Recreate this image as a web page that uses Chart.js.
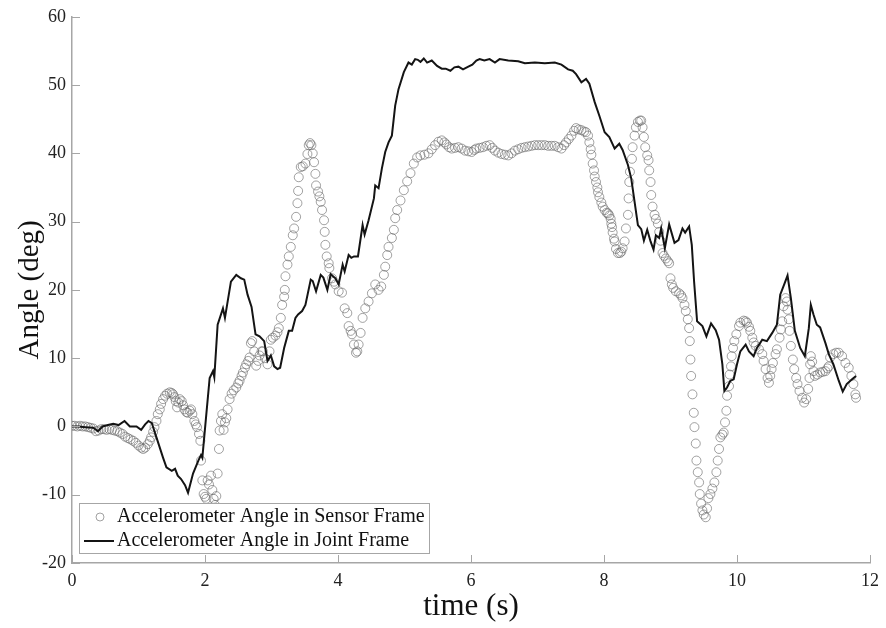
<!DOCTYPE html>
<html>
<head>
<meta charset="utf-8">
<script src="https://cdn.jsdelivr.net/npm/chart.js@4.4.1/dist/chart.umd.min.js"></script>
<style>
  body { margin: 0; background: #fff; }
  #wrap { width: 886px; height: 628px; position: relative; }
</style>
</head>
<body>
<div id="wrap"><canvas id="myChart"></canvas></div>
<script>
// Accelerometer angle in sensor frame (circles)
const sensorTime = [
  0.00, 0.04, 0.08, 0.12, 0.16, 0.20, 0.24, 0.28, 0.32, 0.36, 0.40, 0.44, 0.48, 0.52, 0.56, 0.60,
  0.64, 0.68, 0.72, 0.76, 0.80, 0.84, 0.88, 0.92, 0.96, 1.00, 1.04, 1.07, 1.10, 1.14, 1.17, 1.19,
  1.22, 1.24, 1.27, 1.29, 1.32, 1.34, 1.37, 1.40, 1.43, 1.47, 1.50, 1.52, 1.54, 1.56, 1.58, 1.60,
  1.62, 1.65, 1.67, 1.69, 1.72, 1.74, 1.77, 1.79, 1.81, 1.84, 1.86, 1.88, 1.91, 1.93, 1.94, 1.96,
  1.98, 2.00, 2.02, 2.04, 2.06, 2.09, 2.11, 2.13, 2.15, 2.17, 2.19, 2.21, 2.22, 2.24, 2.26, 2.28,
  2.30, 2.32, 2.34, 2.37, 2.40, 2.43, 2.47, 2.50, 2.52, 2.55, 2.57, 2.60, 2.62, 2.65, 2.67, 2.69,
  2.71, 2.74, 2.77, 2.80, 2.82, 2.85, 2.87, 2.90, 2.94, 2.97, 2.99, 3.02, 3.06, 3.09, 3.11, 3.14,
  3.16, 3.19, 3.20, 3.21, 3.24, 3.26, 3.29, 3.32, 3.34, 3.37, 3.39, 3.40, 3.41, 3.44, 3.47, 3.51,
  3.54, 3.56, 3.58, 3.60, 3.62, 3.64, 3.66, 3.67, 3.70, 3.72, 3.74, 3.76, 3.79, 3.80, 3.81, 3.83,
  3.86, 3.87, 3.91, 3.94, 3.96, 4.01, 4.06, 4.10, 4.14, 4.16, 4.19, 4.21, 4.24, 4.27, 4.29, 4.31,
  4.34, 4.37, 4.41, 4.46, 4.51, 4.56, 4.61, 4.65, 4.69, 4.71, 4.74, 4.76, 4.81, 4.84, 4.86, 4.89,
  4.94, 4.99, 5.04, 5.09, 5.14, 5.19, 5.24, 5.30, 5.36, 5.41, 5.46, 5.51, 5.56, 5.60, 5.63, 5.67,
  5.71, 5.76, 5.81, 5.86, 5.91, 5.96, 6.01, 6.05, 6.08, 6.13, 6.18, 6.23, 6.28, 6.32, 6.36, 6.41,
  6.46, 6.51, 6.56, 6.61, 6.66, 6.71, 6.76, 6.81, 6.86, 6.91, 6.96, 7.01, 7.06, 7.11, 7.16, 7.21,
  7.26, 7.31, 7.36, 7.40, 7.43, 7.47, 7.51, 7.55, 7.58, 7.62, 7.66, 7.70, 7.73, 7.76, 7.78, 7.80,
  7.81, 7.83, 7.85, 7.86, 7.88, 7.90, 7.91, 7.93, 7.96, 7.98, 8.01, 8.04, 8.06, 8.08, 8.10, 8.11,
  8.12, 8.13, 8.15, 8.16, 8.18, 8.21, 8.24, 8.26, 8.28, 8.31, 8.33, 8.36, 8.37, 8.38, 8.39, 8.42,
  8.43, 8.46, 8.48, 8.51, 8.54, 8.56, 8.58, 8.60, 8.62, 8.65, 8.67, 8.68, 8.70, 8.71, 8.73, 8.76,
  8.78, 8.81, 8.83, 8.85, 8.88, 8.90, 8.93, 8.96, 8.98, 9.00, 9.02, 9.04, 9.08, 9.13, 9.16, 9.18,
  9.21, 9.23, 9.26, 9.28, 9.29, 9.30, 9.31, 9.33, 9.35, 9.36, 9.38, 9.39, 9.41, 9.43, 9.44, 9.46,
  9.48, 9.50, 9.53, 9.55, 9.57, 9.60, 9.63, 9.66, 9.69, 9.71, 9.73, 9.75, 9.78, 9.80, 9.82, 9.84,
  9.85, 9.88, 9.89, 9.91, 9.92, 9.94, 9.96, 9.99, 10.03, 10.05, 10.10, 10.13, 10.15, 10.18, 10.20, 10.23,
  10.25, 10.28, 10.33, 10.38, 10.40, 10.43, 10.46, 10.48, 10.50, 10.52, 10.54, 10.58, 10.60, 10.64, 10.66, 10.68,
  10.70, 10.73, 10.75, 10.76, 10.78, 10.79, 10.81, 10.84, 10.86, 10.89, 10.91, 10.94, 10.98, 11.01, 11.04, 11.07,
  11.09, 11.10, 11.11, 11.13, 11.15, 11.17, 11.21, 11.25, 11.29, 11.33, 11.36, 11.38, 11.40, 11.45, 11.49, 11.53,
  11.58, 11.63, 11.68, 11.72, 11.75, 11.78, 11.79
];
const sensorAngle = [
  0.1, 0.1, 0.0, 0.1, 0.0, 0.0, -0.1, -0.2, -0.3, -0.7, -0.6, -0.4, -0.4, -0.5, -0.4, -0.5,
  -0.6, -0.7, -0.9, -1.1, -1.5, -1.7, -1.9, -2.1, -2.4, -2.8, -3.1, -3.3, -3.1, -2.6, -2.1, -1.6,
  -0.8, -0.1, 0.8, 1.8, 2.5, 3.3, 4.0, 4.5, 4.8, 5.0, 4.9, 4.7, 4.3, 3.7, 2.8, 3.5,
  4.0, 3.7, 3.1, 2.5, 2.1, 2.0, 2.3, 2.5, 1.8, 0.8, 0.3, -0.1, -1.1, -2.1, -5.0, -7.9,
  -9.9, -10.3, -10.6, -7.9, -8.5, -7.2, -9.3, -10.6, -11.5, -10.2, -6.9, -3.3, -0.6, 0.8, 1.8, -0.5,
  0.6, 1.2, 2.5, 4.0, 4.8, 5.3, 5.7, 6.3, 6.7, 7.4, 7.9, 8.6, 9.1, 9.6, 10.1, 12.2,
  12.5, 11.0, 8.9, 9.6, 10.4, 11.0, 11.0, 10.0, 9.1, 11.0, 12.7, 13.0, 13.3, 13.8, 14.4, 15.9,
  17.8, 19.0, 20.0, 22.0, 23.7, 24.9, 26.3, 28.0, 29.0, 30.7, 32.7, 34.5, 36.5, 38.0, 38.1, 38.5,
  39.9, 41.2, 41.5, 41.2, 40.0, 38.7, 37.0, 35.3, 34.4, 33.7, 32.9, 31.7, 30.2, 28.5, 26.6, 24.9,
  23.9, 23.2, 21.7, 21.2, 20.8, 19.8, 19.6, 17.3, 16.6, 14.7, 14.0, 13.5, 12.0, 10.8, 11.0, 12.0,
  13.7, 15.9, 17.3, 18.3, 19.5, 20.8, 20.0, 20.5, 22.2, 23.4, 25.1, 26.3, 27.6, 28.8, 30.5, 31.7,
  33.1, 34.6, 35.9, 37.1, 38.5, 39.4, 39.7, 39.8, 40.0, 40.6, 41.2, 41.7, 41.9, 41.6, 41.3, 40.9,
  40.7, 40.8, 40.9, 40.7, 40.4, 40.3, 40.2, 40.5, 40.7, 40.8, 40.9, 41.1, 41.2, 40.8, 40.4, 40.1,
  39.9, 39.8, 39.7, 40.0, 40.4, 40.6, 40.8, 40.9, 41.0, 41.1, 41.2, 41.2, 41.2, 41.2, 41.1, 41.1,
  41.1, 40.9, 40.7, 41.2, 41.6, 42.1, 42.6, 43.3, 43.7, 43.5, 43.4, 43.2, 43.1, 42.6, 41.6, 40.6,
  39.8, 38.5, 37.5, 36.6, 35.8, 35.0, 34.3, 33.6, 32.8, 32.2, 31.7, 31.3, 31.2, 30.9, 30.4, 29.7,
  29.2, 28.4, 27.5, 27.1, 26.0, 25.4, 25.4, 25.6, 26.1, 27.1, 29.0, 31.0, 33.4, 35.8, 37.3, 39.2,
  40.9, 42.6, 43.8, 44.6, 44.8, 44.8, 43.8, 42.4, 40.9, 39.7, 39.0, 37.5, 35.8, 33.9, 32.2, 31.0,
  30.4, 29.7, 28.5, 27.2, 25.4, 25.0, 24.6, 24.2, 23.9, 21.7, 20.8, 20.3, 19.8, 19.5, 19.2, 18.8,
  17.8, 16.9, 15.7, 14.4, 12.5, 9.8, 7.4, 4.7, 2.0, -0.1, -2.5, -5.0, -6.7, -8.2, -9.9, -11.3,
  -12.3, -12.9, -13.3, -12.0, -10.5, -9.9, -9.1, -8.2, -6.7, -5.0, -3.3, -1.6, -1.2, -0.9, 0.6, 2.3,
  4.5, 5.9, 7.6, 8.8, 10.3, 11.5, 12.5, 13.5, 14.7, 15.2, 15.5, 15.4, 15.2, 14.6, 14.0, 13.0,
  12.3, 11.8, 11.3, 10.6, 9.6, 8.4, 7.1, 6.4, 7.4, 8.4, 9.3, 10.6, 11.3, 13.0, 14.2, 15.4,
  17.6, 18.8, 18.3, 17.1, 15.7, 14.0, 11.8, 9.8, 8.4, 7.1, 6.2, 5.2, 4.2, 3.5, 4.0, 5.5,
  7.1, 9.1, 10.3, 9.5, 8.1, 7.4, 7.6, 7.9, 8.0, 8.1, 8.5, 8.8, 10.1, 10.6, 10.8, 10.8,
  10.3, 9.3, 8.6, 7.4, 6.2, 4.7, 4.2
];

// Accelerometer angle in joint frame (solid line)
const jointTime = [
  0.00, 0.10, 0.20, 0.32, 0.39, 0.46, 0.54, 0.62, 0.70, 0.79, 0.87, 0.97, 1.04, 1.10, 1.15, 1.20,
  1.27, 1.32, 1.37, 1.42, 1.50, 1.55, 1.59, 1.64, 1.70, 1.745, 1.82, 1.90, 1.94, 1.96, 2.02, 2.07,
  2.12, 2.14, 2.19, 2.27, 2.30, 2.39, 2.47, 2.54, 2.59, 2.64, 2.70, 2.76, 2.82, 2.89, 2.94, 2.99,
  3.04, 3.09, 3.13, 3.19, 3.26, 3.31, 3.36, 3.40, 3.46, 3.51, 3.59, 3.62, 3.67, 3.74, 3.78, 3.84,
  3.89, 3.96, 4.01, 4.07, 4.10, 4.16, 4.20, 4.24, 4.30, 4.37, 4.40, 4.46, 4.54, 4.56, 4.61, 4.66,
  4.71, 4.76, 4.81, 4.86, 4.91, 4.99, 5.06, 5.11, 5.16, 5.20, 5.24, 5.29, 5.34, 5.41, 5.49, 5.56,
  5.62, 5.69, 5.75, 5.81, 5.88, 5.96, 6.02, 6.08, 6.13, 6.20, 6.28, 6.36, 6.43, 6.56, 6.71, 6.81,
  6.96, 7.11, 7.26, 7.36, 7.46, 7.53, 7.58, 7.66, 7.73, 7.78, 7.86, 7.93, 8.01, 8.08, 8.16, 8.23,
  8.28, 8.36, 8.41, 8.46, 8.51, 8.56, 8.60, 8.65, 8.70, 8.745, 8.78, 8.83, 8.86, 8.915, 8.98, 9.06,
  9.12, 9.18, 9.22, 9.28, 9.32, 9.355, 9.40, 9.48, 9.54, 9.61, 9.68, 9.73, 9.78, 9.81, 9.85, 9.90,
  9.95, 10.00, 10.05, 10.13, 10.18, 10.25, 10.30, 10.38, 10.45, 10.53, 10.60, 10.65, 10.71, 10.76, 10.81, 10.87,
  10.95, 11.02, 11.08, 11.11, 11.15, 11.20, 11.25, 11.33, 11.38, 11.45, 11.53, 11.59, 11.65, 11.73, 11.79
];
const jointAngle = [
  0.0, 0.0, -0.1, -0.2, -0.7, 0.0, 0.2, 0.4, 0.2, 0.8, 0.0, 0.0, -0.5, 0.3, 0.8, 0.5,
  -1.6, -3.1, -4.6, -6.0, -6.5, -6.2, -7.2, -7.7, -8.6, -9.7, -6.9, -5.0, -4.2, -4.6, 1.8, 7.1,
  8.1, 7.2, 14.9, 17.3, 15.9, 21.2, 22.2, 21.7, 21.5, 19.3, 17.5, 13.5, 13.2, 12.5, 9.6, 10.4,
  8.8, 8.4, 8.6, 11.5, 14.0, 14.0, 15.9, 16.4, 16.9, 17.8, 21.5, 21.3, 19.8, 22.2, 21.8, 20.0,
  22.3, 21.7, 20.8, 23.7, 22.7, 25.1, 24.7, 24.9, 24.9, 29.5, 28.1, 30.2, 33.4, 35.3, 34.9, 37.8,
  40.2, 41.6, 42.6, 47.0, 49.4, 51.9, 53.3, 53.0, 53.8, 53.7, 53.4, 53.9, 53.3, 53.6, 52.8, 52.4,
  52.4, 52.1, 52.6, 52.7, 52.3, 52.7, 53.0, 53.6, 53.8, 53.6, 53.8, 53.3, 53.8, 53.6, 53.5, 53.2,
  53.3, 53.2, 53.3, 53.0, 52.3, 52.1, 51.6, 50.4, 50.9, 50.2, 47.5, 45.5, 43.1, 42.4, 40.7, 41.4,
  40.5, 38.3, 36.3, 32.9, 29.5, 28.9, 27.2, 28.8, 27.1, 25.9, 28.0, 27.6, 29.0, 26.1, 29.6, 26.9,
  27.3, 29.0, 28.4, 29.3, 26.6, 21.2, 15.4, 14.7, 13.2, 15.1, 14.1, 12.7, 9.1, 5.2, 5.7, 6.7,
  6.9, 9.1, 11.0, 12.0, 11.0, 10.3, 11.5, 12.7, 12.5, 13.7, 14.9, 19.3, 20.8, 22.1, 18.8, 14.0,
  11.5, 10.3, 14.4, 17.8, 16.4, 14.9, 14.5, 12.2, 10.6, 9.1, 6.7, 5.1, 6.2, 6.9, 7.4
];

const xTicks = [0, 2, 4, 6, 8, 10, 12];
const yTicks = [-20, -10, 0, 10, 20, 30, 40, 50, 60];

const serif = "'Liberation Serif', 'Times New Roman', serif";
const axisGray = '#a6a6a6';

function toPoints(xs, ys){
    return xs.map((x, i) => ({x: x, y: ys[i]}));
}

// tick marks drawn inside the plot, like the original figure
const innerTicks = {
    id: 'innerTicks',
    afterDraw(chart){
        const ctx = chart.ctx;
        const area = chart.chartArea;
        const xs = chart.scales.x;
        const ys = chart.scales.y;
        ctx.save();
        ctx.strokeStyle = axisGray;
        ctx.lineWidth = 1;
        xTicks.forEach(v => {
            const px = Math.round(xs.getPixelForValue(v)) + 0.5;
            ctx.beginPath();
            ctx.moveTo(px, area.bottom);
            ctx.lineTo(px, area.bottom - 8);
            ctx.stroke();
        });
        yTicks.forEach(v => {
            const py = Math.round(ys.getPixelForValue(v)) + 0.5;
            ctx.beginPath();
            ctx.moveTo(area.left, py);
            ctx.lineTo(area.left + 8, py);
            ctx.stroke();
        });
        ctx.restore();
    }
};

// boxed legend in the lower left corner of the plot
const boxLegend = {
    id: 'boxLegend',
    afterDraw(chart){
        const ctx = chart.ctx;
        const area = chart.chartArea;
        const sets = chart.data.datasets;
        const left = area.left + 7;
        const top = area.bottom - 60;
        const w = 350;
        const h = 50;
        ctx.save();
        ctx.fillStyle = '#fff';
        ctx.fillRect(left, top, w, h);
        ctx.strokeStyle = axisGray;
        ctx.lineWidth = 1;
        ctx.strokeRect(left + 0.5, top + 0.5, w, h);

        ctx.font = '20px ' + serif;
        ctx.fillStyle = '#111';
        ctx.textBaseline = 'middle';

        // sensor frame entry
        ctx.beginPath();
        ctx.arc(left + 21, top + 14, 4, 0, Math.PI * 2);
        ctx.strokeStyle = sets[1].borderColor;
        ctx.stroke();
        ctx.fillText(sets[1].label, left + 38, top + 14);

        // joint frame entry
        ctx.beginPath();
        ctx.moveTo(left + 5, top + 38);
        ctx.lineTo(left + 35, top + 38);
        ctx.strokeStyle = sets[0].borderColor;
        ctx.lineWidth = 2;
        ctx.stroke();
        ctx.fillText(sets[0].label, left + 38, top + 38);
        ctx.restore();
    }
};

function createChart(){
    const ctx = document.getElementById('myChart').getContext('2d');
    new Chart(ctx, {
        type: 'scatter',
        data: {
            datasets: [{
                label: 'Accelerometer Angle in Joint Frame',
                data: toPoints(jointTime, jointAngle),
                showLine: true,
                borderColor: '#141414',
                borderWidth: 2,
                pointRadius: 0,
                tension: 0,
                order: 0
            },
            {
                label: 'Accelerometer Angle in Sensor Frame',
                data: toPoints(sensorTime, sensorAngle),
                showLine: false,
                pointStyle: 'circle',
                pointRadius: 4.5,
                borderWidth: 1,
                borderColor: 'rgba(100,100,100,0.6)',
                backgroundColor: 'rgba(0,0,0,0)',
                order: 1
            }]
        },
        options: {
            responsive: true,
            maintainAspectRatio: false,
            animation: false,
            events: [],
            layout: { padding: { left: 0, right: 13, top: 14, bottom: 0 } },
            plugins: {
                legend: { display: false },
                tooltip: { enabled: false }
            },
            scales: {
                x: {
                    type: 'linear',
                    min: 0,
                    max: 12,
                    afterFit: scale => { scale.height = 65; },
                    afterBuildTicks: scale => { scale.ticks = xTicks.map(v => ({value: v})); },
                    grid: { display: true, drawOnChartArea: false, drawTicks: false },
                    border: { color: axisGray, width: 1.5 },
                    ticks: { color: '#222', padding: 7, font: { family: serif, size: 18 } },
                    title: {
                        display: true,
                        text: 'time (s)',
                        color: '#111',
                        padding: { top: 0, bottom: 3 },
                        font: { family: serif, size: 31 }
                    }
                },
                y: {
                    type: 'linear',
                    min: -20,
                    max: 60,
                    afterFit: scale => { scale.width = 72; },
                    afterBuildTicks: scale => { scale.ticks = yTicks.map(v => ({value: v})); },
                    grid: { display: true, drawOnChartArea: false, drawTicks: false },
                    border: { color: axisGray, width: 1.5 },
                    ticks: { color: '#222', padding: 6, font: { family: serif, size: 18 } },
                    title: {
                        display: true,
                        text: 'Angle (deg)',
                        color: '#111',
                        padding: { top: 13, bottom: 0 },
                        font: { family: serif, size: 29 }
                    }
                }
            }
        },
        plugins: [innerTicks, boxLegend]
    });
}

createChart();
</script>
</body>
</html>
